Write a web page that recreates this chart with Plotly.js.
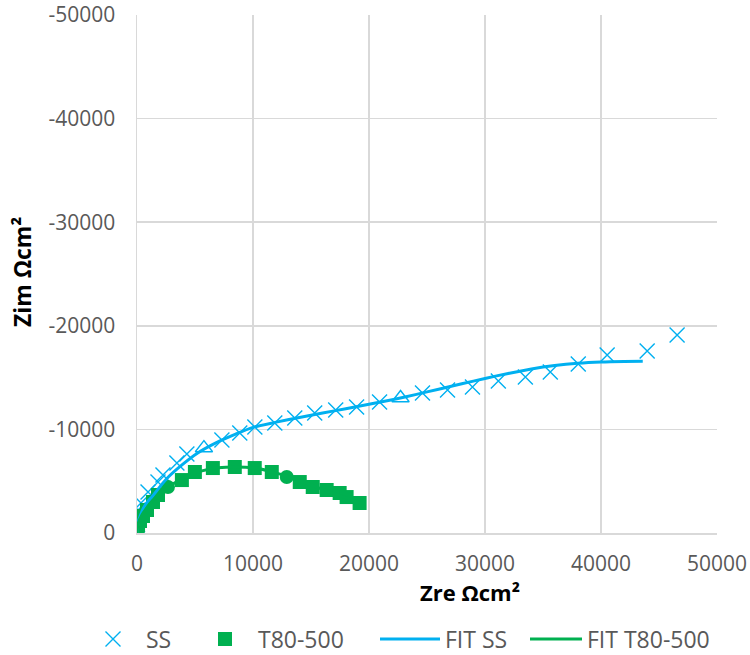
<!DOCTYPE html>
<html>
<head>
<meta charset="utf-8">
<script src="https://cdn.plot.ly/plotly-3.0.1.min.js"></script>
<style>
  html, body { margin: 0; padding: 0; background: #fff; }
  #chart { width: 750px; height: 655px; }
</style>
</head>
<body>
<div id="chart"></div>
<script>
// Nyquist data (Zre, Zim in Ω·cm²)
const ssZre = [20, 40, 60, 90, 340, 950, 1810, 2240, 3440, 4300, 5770, 7320, 8860, 10160, 11880, 13600, 15320, 17130, 18930, 20910, 22720, 24610, 26770, 28920, 31150, 33480, 35630, 38040, 40530, 43980, 46560];
const ssZim = [-300, -800, -1400, -2220, -2900, -3960, -4920, -5600, -6760, -7620, -8200, -8980, -9650, -10230, -10620, -11100, -11580, -11870, -12160, -12640, -13030, -13510, -13800, -14090, -14670, -15060, -15540, -16310, -17180, -17570, -19110];
const ssSymbols = ['x-thin-open','x-thin-open','x-thin-open','x-thin-open','x-thin-open','x-thin-open','x-thin-open','x-thin-open','x-thin-open','x-thin-open','triangle-up-open','x-thin-open','x-thin-open','x-thin-open','x-thin-open','x-thin-open','x-thin-open','x-thin-open','x-thin-open','x-thin-open','triangle-up-open','x-thin-open','x-thin-open','x-thin-open','x-thin-open','x-thin-open','x-thin-open','x-thin-open','x-thin-open','x-thin-open','x-thin-open'];

const tZre = [10, 20, 40, 90, 260, 520, 860, 1380, 1810, 2670, 3870, 4990, 6540, 8430, 10150, 11620, 12910, 14030, 15150, 16350, 17470, 18070, 19190];
const tZim = [-50, -200, -480, -770, -1160, -1640, -2220, -2990, -3670, -4440, -5110, -5890, -6270, -6370, -6270, -5890, -5400, -4920, -4440, -4150, -3860, -3470, -2895];
const tSymbols = ['square','square','square','square','square','square','square','square','square','circle','square','square','square','square','square','square','circle','square','square','square','square','square','square'];

const fitSsZre = [0, 30, 100, 260, 550, 900, 1300, 2000, 2700, 3800, 5200, 6800, 8400, 10000, 12000, 14000, 16000, 18000, 20000, 22000, 24000, 26000, 28000, 30000, 32000, 34000, 36000, 38000, 40000, 42000, 43600];
const fitSsZim = [0, -500, -1100, -1600, -2400, -3000, -3500, -4500, -5400, -6500, -7700, -8700, -9500, -10200, -10700, -11150, -11580, -12000, -12420, -12870, -13360, -13880, -14400, -14920, -15400, -15840, -16170, -16390, -16510, -16560, -16575];

const fitTZre = [0, 100, 400, 900, 1500, 2300, 3200, 4300, 5600, 7000, 8500, 10000, 11500, 13000, 14500, 16000, 17500, 19200];
const fitTZim = [0, -900, -1700, -2500, -3300, -4100, -4800, -5500, -6000, -6300, -6380, -6300, -5950, -5450, -4850, -4200, -3600, -2900];

const xTicks = [0, 10000, 20000, 30000, 40000, 50000];
const xTickText = ['0', '10000', '20000', '30000', '40000', '50000'];
const yTicks = [0, -10000, -20000, -30000, -40000, -50000];
const yTickText = ['0', '-10000', '-20000', '-30000', '-40000', '-50000'];

const BLUE = '#00B0F0';
const GREEN = '#00B050';
const FONT = "'Open Sans', 'Liberation Sans', sans-serif";
const GRID = '#D9D9D9';

const traces = [
  {
    name: 'SS', legend: 'legend', x: ssZre, y: ssZim, type: 'scatter', mode: 'markers',
    marker: { symbol: ssSymbols, size: 15, color: BLUE, line: { color: BLUE, width: 1.4 } }
  },
  {
    name: 'T80-500', legend: 'legend2', x: tZre, y: tZim, type: 'scatter', mode: 'markers',
    marker: { symbol: tSymbols, size: 14, color: GREEN, line: { width: 0 } }
  },
  {
    name: 'FIT SS', legend: 'legend3', x: fitSsZre, y: fitSsZim, type: 'scatter', mode: 'lines',
    line: { color: BLUE, width: 3, shape: 'spline', smoothing: 0.8 }
  },
  {
    name: 'FIT T80-500', legend: 'legend4', x: fitTZre, y: fitTZim, type: 'scatter', mode: 'lines',
    line: { color: GREEN, width: 3, shape: 'spline', smoothing: 0.8 }
  }
];

// one legend box per entry so each key can sit in its own slot along the bottom row
function legendBox(xPaper, itemWidth) {
  return {
    orientation: 'h', x: xPaper, xanchor: 'left', y: -0.2046, yanchor: 'middle',
    font: { family: FONT, size: 23, color: '#595959' },
    itemwidth: itemWidth, bgcolor: 'rgba(0,0,0,0)', borderwidth: 0
  };
}

const layout = {
  width: 750, height: 655,
  margin: { l: 137, r: 33, t: 15, b: 122, autoexpand: false },
  paper_bgcolor: '#ffffff', plot_bgcolor: '#ffffff',
  font: { family: FONT, size: 21, color: '#595959' },
  showlegend: true,
  legend: legendBox((80 - 137) / 580, 56),
  legend2: legendBox((192 - 137) / 580, 56),
  legend3: legendBox((375 - 137) / 580, 60),
  legend4: legendBox((525 - 137) / 580, 52),
  xaxis: {
    range: [0, 50000], tickvals: xTicks, ticktext: xTickText,
    showgrid: true, gridcolor: GRID, gridwidth: 1.5,
    showline: true, linecolor: GRID, linewidth: 1.5,
    zeroline: false, ticks: '', ticklabelstandoff: 11,
    tickfont: { family: FONT, size: 21, color: '#595959' }
  },
  yaxis: {
    range: [0, -50000], tickvals: yTicks, ticktext: yTickText,
    showgrid: true, gridcolor: GRID, gridwidth: 1.5,
    showline: true, linecolor: GRID, linewidth: 1.5,
    zeroline: false, ticks: '', ticklabelstandoff: 16,
    tickfont: { family: FONT, size: 21, color: '#595959' }
  },
  annotations: [
    {
      text: '<b>Zre Ωcm²</b>', xref: 'paper', yref: 'paper',
      x: (470 - 137) / 580, y: (533 - 592) / 518, xanchor: 'center', yanchor: 'middle',
      showarrow: false, font: { family: FONT, size: 22, color: '#000000' }
    },
    {
      text: '<b>Zim Ωcm²</b>', xref: 'paper', yref: 'paper', textangle: -90,
      x: (22 - 137) / 580, y: (533 - 272) / 518, xanchor: 'center', yanchor: 'middle',
      showarrow: false, font: { family: FONT, size: 23, color: '#000000' }
    }
  ]
};

Plotly.newPlot('chart', traces, layout, { displayModeBar: false, staticPlot: true });
</script>
</body>
</html>
